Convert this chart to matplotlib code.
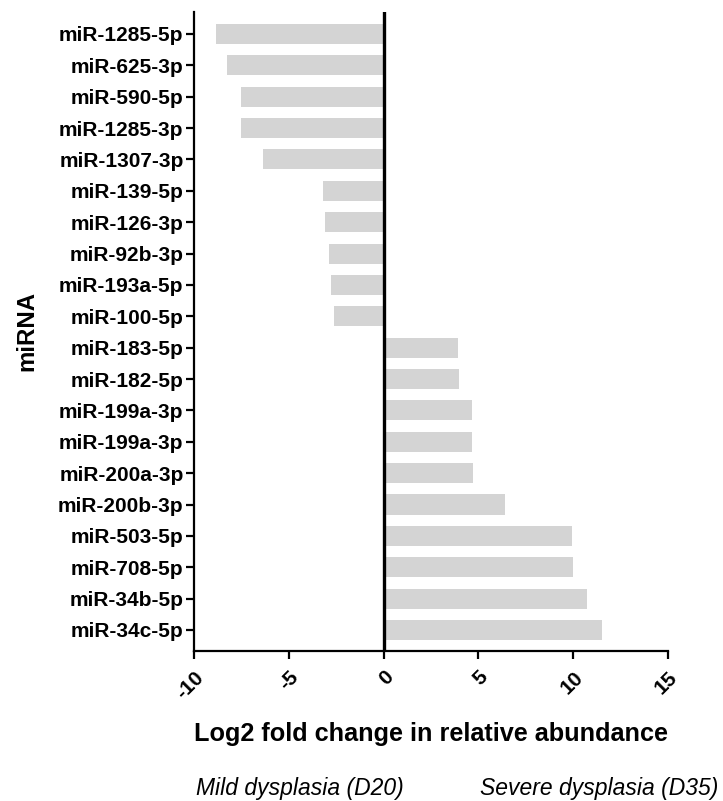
import numpy as np
import matplotlib.pyplot as plt

plt.rcParams['font.family'] = ['Liberation Sans', 'DejaVu Sans']

mirnas = [
    "miR-1285-5p", "miR-625-3p", "miR-590-5p", "miR-1285-3p", "miR-1307-3p",
    "miR-139-5p", "miR-126-3p", "miR-92b-3p", "miR-193a-5p", "miR-100-5p",
    "miR-183-5p", "miR-182-5p", "miR-199a-3p", "miR-199a-3p", "miR-200a-3p",
    "miR-200b-3p", "miR-503-5p", "miR-708-5p", "miR-34b-5p", "miR-34c-5p",
]
log2fc = [
    -8.86, -8.24, -7.50, -7.50, -6.35,
    -3.21, -3.10, -2.89, -2.75, -2.63,
    3.92, 3.99, 4.66, 4.66, 4.73,
    6.42, 9.93, 10.00, 10.74, 11.53,
]
xticks = [-10, -5, 0, 5, 10, 15]

W, H = 723, 801
fig = plt.figure(figsize=(W / 100, H / 100), dpi=100)
ax = fig.add_axes([194 / W, 150 / H, 474 / W, 639 / H])

y = np.arange(len(mirnas))
ax.barh(y, log2fc, height=0.64, color="#d4d4d4", zorder=1)
ax.axvline(0, color="black", lw=2.4, zorder=3)

ax.set_xlim(-10, 15)
ax.set_ylim(len(mirnas) - 0.33, -0.7)

ax.set_yticks(y)
ax.set_yticklabels(mirnas, fontsize=15, fontweight="bold")
ax.set_xticks(xticks)
ax.set_xticklabels([str(t) for t in xticks], fontsize=15, fontweight="bold",
                   rotation=45, ha="right", va="top", rotation_mode="anchor")

for side in ("top", "right"):
    ax.spines[side].set_visible(False)
for side in ("left", "bottom"):
    ax.spines[side].set_linewidth(1.6)
ax.tick_params(axis="both", width=1.6, length=6, direction="out")
ax.tick_params(axis="y", pad=1.5)
ax.tick_params(axis="x", pad=6)

# axis titles and group captions placed in figure pixels
fig.text(431 / W, 1 - 734 / H, "Log2 fold change in relative abundance",
         fontsize=18.2, fontweight="bold", ha="center", va="center")
fig.text(27 / W, 1 - 331 / H, "miRNA", fontsize=17.3, fontweight="bold",
         rotation=90, ha="center", va="center")
fig.text(196 / W, 1 - 788 / H, "Mild dysplasia (D20)", fontsize=16.5,
         style="italic", ha="left", va="center")
fig.text(718 / W, 1 - 788 / H, "Severe dysplasia (D35)", fontsize=16.5,
         style="italic", ha="right", va="center")

fig.savefig("out.png", dpi=100)
